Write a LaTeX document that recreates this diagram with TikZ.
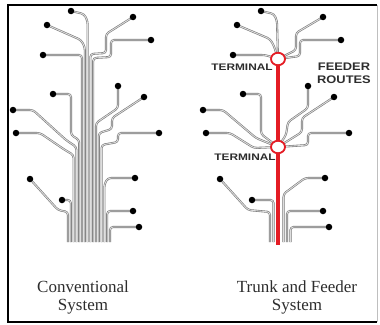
\documentclass[tikz,border=0pt]{standalone}
\usepackage{fontspec}
\setmainfont{Liberation Serif}
\newfontfamily\labelsans{Liberation Sans}
\usetikzlibrary{shapes.geometric}
\definecolor{trunkred}{RGB}{228,28,36}
\definecolor{txt}{RGB}{45,45,45}
\pgfdeclarelayer{bg}
\pgfsetlayers{bg,main}
\tikzset{
  wire/.style={draw=black!52, double=black!13, line width=0.6pt, double distance=0.85pt, rounded corners=3pt},
  dot/.style={circle, fill=black, inner sep=0pt, minimum size=6.5pt},
  term/.style={ellipse, draw=trunkred, fill=white, line width=1.8pt, minimum width=14pt, minimum height=12.5pt, inner sep=0pt},
  trunkline/.style={draw=trunkred, line width=4pt},
  caption/.style={font=\fontsize{17}{19}\selectfont, text=txt, inner sep=0pt},
  tag/.style={font=\labelsans\bfseries\fontsize{9.5}{10}\selectfont, text=txt, inner sep=0pt, xscale=1.25},
  bigtag/.style={font=\labelsans\bfseries\fontsize{11}{12}\selectfont, text=txt, inner sep=0pt, xscale=1.17},
}
\begin{document}
\begin{tikzpicture}[x=1pt,y=-1pt]
\useasboundingbox (0,0) rectangle (380,324);
% frame
\draw[black, line width=1.6pt] (377,5) -- (8,5) -- (8,322) -- (377,322);
\draw[gray!50, line width=0.8pt] (377,5) -- (377,322);

% ---------- left tree dots ----------
\node[dot] (a1) at (71,11) {};
\node[dot] (a2) at (47,25) {};
\node[dot] (a3) at (133,17) {};
\node[dot] (a4) at (151,40) {};
\node[dot] (a5) at (43,55) {};
\node[dot] (a6) at (53,94) {};
\node[dot] (a7) at (13,110) {};
\node[dot] (a8) at (16,133) {};
\node[dot] (a9) at (118,86) {};
\node[dot] (a10) at (144,97) {};
\node[dot] (a11) at (159,133) {};
\node[dot] (a12) at (30,179) {};
\node[dot] (a13) at (62,200) {};
\node[dot] (a14) at (135,178) {};
\node[dot] (a15) at (133,211) {};
\node[dot] (a16) at (139,227) {};

% ---------- right tree dots ----------
\node[dot] (b1) at (261,11) {};
\node[dot] (b2) at (237,25) {};
\node[dot] (b3) at (323,17) {};
\node[dot] (b4) at (341,40) {};
\node[dot] (b5) at (233,55) {};
\node[dot] (b6) at (243,94) {};
\node[dot] (b7) at (203,110) {};
\node[dot] (b8) at (206,133) {};
\node[dot] (b9) at (308,86) {};
\node[dot] (b10) at (334,97) {};
\node[dot] (b11) at (349,133) {};
\node[dot] (b12) at (220,179) {};
\node[dot] (b13) at (252,200) {};
\node[dot] (b14) at (325,178) {};
\node[dot] (b15) at (323,211) {};
\node[dot] (b16) at (329,227) {};

% terminals
\node[term] (T1) at (278,59) {};
\node[term] (T2) at (278,147) {};
\coordinate (trunkend) at (278,245);

% labels
\node[tag] (t1) at (242,67) {TERMINAL};
\node[tag] (t2) at (245,157.5) {TERMINAL};
\node[bigtag] (f1) at (344,67) {FEEDER};
\node[bigtag] (f2) at (344,80) {ROUTES};
\node[caption] (c1) at (83,287) {Conventional};
\node[caption] (c2) at (83,307) {System};
\node[caption] (c3) at (297,287) {Trunk and Feeder};
\node[caption] (c4) at (297,307) {System};

\begin{pgfonlayer}{bg}
% ---------- left tree wires ----------
\draw[wire] (a12.center) -- (58,210) -- (68,212) -- (68,242);
\draw[wire] (a13.center) -- (70.8,200) -- (70.8,242);
\draw[wire] (a8.center) -- (40,133) -- (65,150) -- (73.6,155) -- (73.6,242);
\draw[wire] (a7.center) -- (33,110) -- (66,140) -- (76.4,147) -- (76.4,242);
\draw[wire] (a6.center) -- (71,94) -- (71,135) -- (79.2,140) -- (79.2,242);
\draw[wire] (a5.center) -- (82,55) -- (82,242);
\draw[wire] (a2.center) -- (81,40) -- (84.8,47) -- (84.8,242);
\draw[wire] (a1.center) -- (84,14) -- (87.6,21) -- (87.6,242);
\draw[wire] (a3.center) -- (106,34) -- (106,53) -- (90.4,54) -- (90.4,242);
\draw[wire] (a4.center) -- (111,40) -- (111,57) -- (93.2,58) -- (93.2,242);
\draw[wire] (a9.center) -- (118,108) -- (96,123) -- (96,242);
\draw[wire] (a10.center) -- (112,118) -- (112,129) -- (98.8,133) -- (98.8,242);
\draw[wire] (a11.center) -- (118,133) -- (118,142) -- (101.6,145) -- (101.6,242);
\draw[wire] (a14.center) -- (108,178) -- (104.4,184) -- (104.4,242);
\draw[wire] (a15.center) -- (107.2,211) -- (107.2,242);
\draw[wire] (a16.center) -- (110,227) -- (110,242);

% ---------- right tree wires ----------
\draw[wire] (b1.center) -- (274,14) -- (277,21) -- (T1.center);
\draw[wire] (b2.center) -- (270,39) -- (274,46) -- (T1.center);
\draw[wire] (b3.center) -- (296,33) -- (296,50) -- (T1.center);
\draw[wire] (b4.center) -- (300,40) -- (300,56) -- (T1.center);
\draw[wire] (b5.center) -- (265,55) -- (T1.center);
\draw[wire] (b6.center) -- (261,94) -- (261,134) -- (T2.center);
\draw[wire] (b7.center) -- (223,110) -- (256,138) -- (T2.center);
\draw[wire] (b8.center) -- (230,133) -- (254,148) -- (T2.center);
\draw[wire] (b9.center) -- (308,108) -- (288,122) -- (286,135) -- (T2.center);
\draw[wire] (b10.center) -- (302,118) -- (302,132) -- (T2.center);
\draw[wire] (b11.center) -- (308,133) -- (308,145) -- (T2.center);
\draw[wire] (b12.center) -- (248,210) -- (270,212) -- (270,242);
\draw[wire] (b13.center) -- (273.5,200) -- (273.5,242);
\draw[wire] (b14.center) -- (305,178) -- (283.5,194) -- (283.5,242);
\draw[wire] (b15.center) -- (287,211) -- (287,242);
\draw[wire] (b16.center) -- (290.5,227) -- (290.5,242);

% trunk
\draw[trunkline] (T1.center) -- (trunkend);
\end{pgfonlayer}
\end{tikzpicture}
\end{document}
